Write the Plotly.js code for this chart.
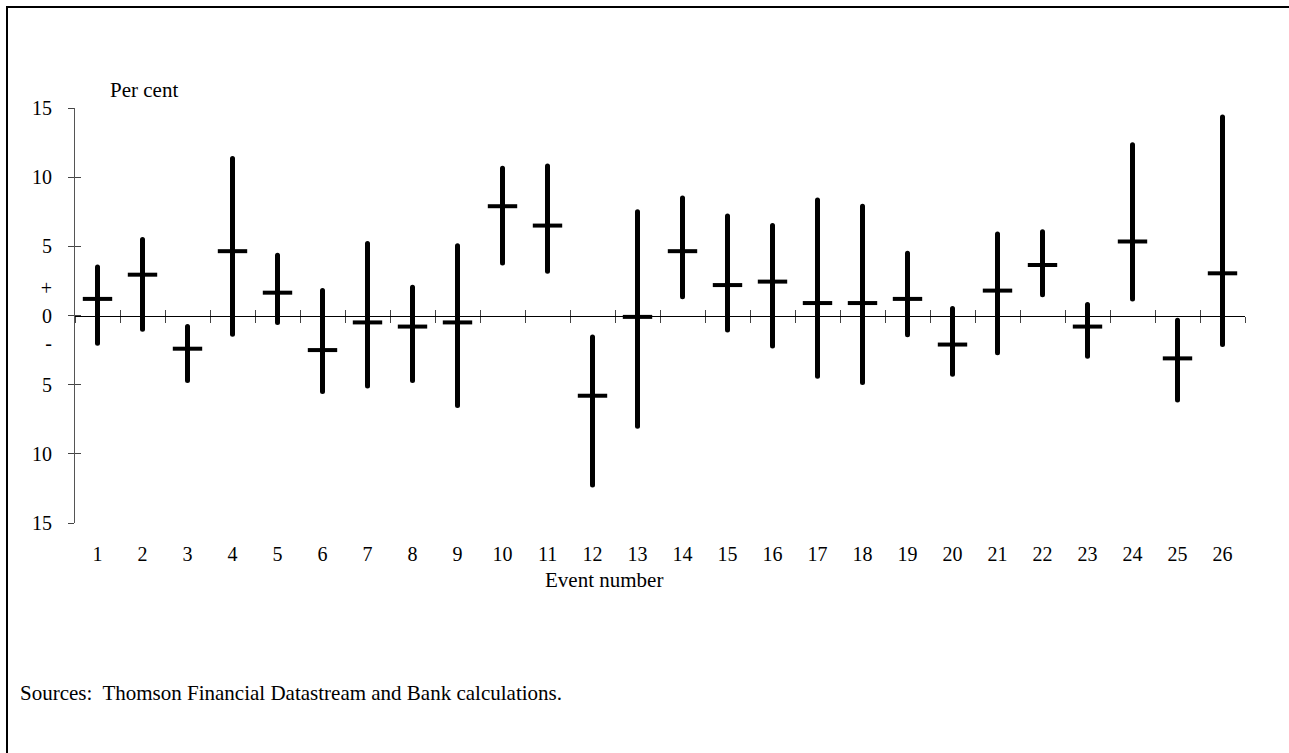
<!DOCTYPE html>
<html>
<head>
<meta charset="utf-8">
<script src="https://cdn.plot.ly/plotly-3.0.1.min.js"></script>
<style>
  html, body { margin: 0; padding: 0; background: #fff; }
  #wrap { position: relative; width: 1289px; height: 753px; overflow: hidden; }
  #chart { position: absolute; left: 0; top: 0; width: 1289px; height: 753px; }
  #frame { position: absolute; left: 6px; top: 6px; width: 1400px; height: 900px;
           border-left: 2px solid #000; border-top: 2px solid #000; pointer-events: none; }
</style>
</head>
<body>
<div id="wrap">
  <div id="chart"></div>
  <div id="frame"></div>
</div>
<script>
// Event numbers
const events = [1,2,3,4,5,6,7,8,9,10,11,12,13,14,15,16,17,18,19,20,21,22,23,24,25,26];
// Highest value over the event window (per cent)
const highs = [3.5, 5.5, -0.8, 11.35, 4.35, 1.8, 5.2, 2.05, 5.05, 10.65, 10.8, -1.55, 7.5, 8.5, 7.2, 6.5, 8.35, 7.9, 4.5, 0.5, 5.9, 6.05, 0.8, 12.35, -0.35, 14.35];
// Lowest value over the event window (per cent)
const lows  = [-2.0, -1.0, -4.7, -1.35, -0.5, -5.5, -5.1, -4.7, -6.5, 3.8, 3.2, -12.25, -8.0, 1.35, -1.05, -2.2, -4.4, -4.85, -1.4, -4.25, -2.7, 1.5, -2.95, 1.2, -6.1, -2.1];
// Change at the end of the window (per cent)
const mids  = [1.2, 2.95, -2.4, 4.65, 1.65, -2.5, -0.5, -0.8, -0.5, 7.9, 6.5, -5.8, -0.1, 4.65, 2.2, 2.45, 0.9, 0.9, 1.2, -2.1, 1.8, 3.65, -0.8, 5.35, -3.1, 3.05];
// Y tick labels (the chart shows magnitudes, with + / - markers)
const yLabelVals = [15, 10, 5, 2, 0, -2, -5, -10, -15];
const yLabelText = ['15', '10', '5', '+', '0', '-', '5', '10', '15'];
const yTickVals = [15, 10, 5, 0, -5, -10, -15];
const xLabels = events.map(String);

const FONT = 'Liberation Serif, Times New Roman, serif';

const barX = [], barY = [];
events.forEach((e, i) => { barX.push(e, e, null); barY.push(lows[i], highs[i], null); });

const traces = [
  {
    type: 'scatter', mode: 'lines+markers', x: barX, y: barY,
    line: {color: '#000', width: 5},
    marker: {color: '#000', size: 5, symbol: 'circle'},
    hoverinfo: 'skip', showlegend: false, cliponaxis: false
  },
  {
    type: 'scatter', mode: 'markers', x: events, y: mids,
    marker: {symbol: 'line-ew', size: 21, color: '#000', line: {color: '#000', width: 4}},
    showlegend: false, cliponaxis: false
  },
  // carriers for the overlay tick axes
  {type: 'scatter', x: [], y: [], xaxis: 'x2', yaxis: 'y2', showlegend: false},
  {type: 'scatter', x: [], y: [], xaxis: 'x3', yaxis: 'y3', showlegend: false}
];

const xr = [0.5, events.length + 0.5];
const layout = {
  width: 1289, height: 753,
  margin: {l: 75, r: 44, t: 108, b: 230},
  paper_bgcolor: '#fff', plot_bgcolor: 'rgba(0,0,0,0)',
  font: {family: FONT, size: 20, color: '#000'},
  showlegend: false,
  xaxis: {
    range: xr, tickmode: 'array', tickvals: events, ticktext: xLabels,
    ticks: 'outside', ticklen: 13, tickcolor: 'rgba(0,0,0,0)',
    showline: false, showgrid: false, zeroline: false, automargin: false,
    tickfont: {family: FONT, size: 20, color: '#000'}
  },
  xaxis2: {
    range: xr, overlaying: 'x', anchor: 'free', position: 0.5,
    tickmode: 'linear', tick0: 0.5, dtick: 1,
    ticks: 'outside', ticklen: 6, tickwidth: 1, tickcolor: '#444',
    showticklabels: false, showline: true, linecolor: '#000', linewidth: 1,
    showgrid: false, zeroline: false, automargin: false
  },
  xaxis3: {
    range: xr, overlaying: 'x', anchor: 'free', position: 0.5,
    tickmode: 'linear', tick0: 0.5, dtick: 1,
    ticks: 'inside', ticklen: 6, tickwidth: 1, tickcolor: '#444',
    showticklabels: false, showline: false,
    showgrid: false, zeroline: false, automargin: false
  },
  yaxis: {
    range: [-15, 15], tickmode: 'array', tickvals: yLabelVals, ticktext: yLabelText,
    ticks: 'outside', ticklen: 18, tickcolor: 'rgba(0,0,0,0)',
    showline: true, linecolor: '#555', linewidth: 1,
    showgrid: false, zeroline: false, automargin: false,
    tickfont: {family: FONT, size: 20, color: '#000'}
  },
  yaxis2: {
    range: [-15, 15], overlaying: 'y', anchor: 'x', side: 'left',
    tickmode: 'array', tickvals: yTickVals,
    ticks: 'outside', ticklen: 6, tickwidth: 1, tickcolor: '#444',
    showticklabels: false, showline: false, showgrid: false, zeroline: false, automargin: false
  },
  yaxis3: {
    range: [-15, 15], overlaying: 'y', anchor: 'x', side: 'left',
    tickmode: 'array', tickvals: yTickVals,
    ticks: 'inside', ticklen: 6, tickwidth: 1, tickcolor: '#444',
    showticklabels: false, showline: false, showgrid: false, zeroline: false, automargin: false
  },
  annotations: [
    {text: 'Per cent', xref: 'paper', yref: 'paper', x: 0.028, y: 1.043,
     xanchor: 'left', yanchor: 'middle', showarrow: false, font: {family: FONT, size: 21}},
    {text: 'Event number', xref: 'paper', yref: 'paper', x: 0.452, y: -0.138,
     xanchor: 'center', yanchor: 'middle', showarrow: false, font: {family: FONT, size: 21}},
    {text: 'Sources:  Thomson Financial Datastream and Bank calculations.', xref: 'paper', yref: 'paper',
     x: -0.0483, y: -0.410, xanchor: 'left', yanchor: 'middle', showarrow: false,
     font: {family: FONT, size: 21}}
  ]
};

Plotly.newPlot('chart', traces, layout, {displayModeBar: false, staticPlot: true});
</script>
</body>
</html>
